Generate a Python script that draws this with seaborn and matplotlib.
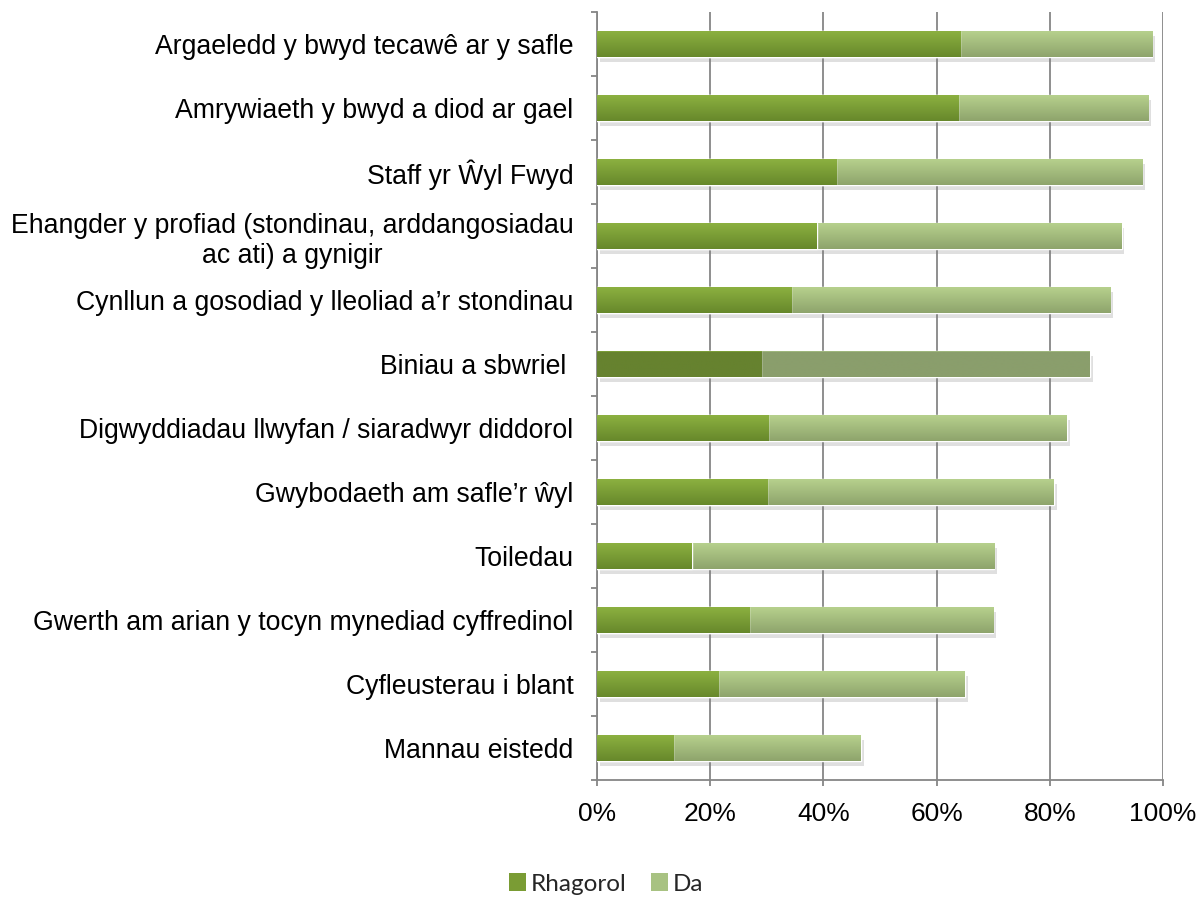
import numpy as np
import pandas as pd
import matplotlib
matplotlib.use("Agg")
import matplotlib.pyplot as plt
import matplotlib.patheffects as pe
from matplotlib.patches import Patch
from matplotlib.ticker import MultipleLocator, FixedLocator, PercentFormatter
import seaborn as sns

categories = [
    "Argaeledd y bwyd tecawê ar y safle",
    "Amrywiaeth y bwyd a diod ar gael",
    "Staff yr Ŵyl Fwyd",
    "Ehangder y profiad (stondinau, arddangosiadau\nac ati) a gynigir",
    "Cynllun a gosodiad y lleoliad a’r stondinau",
    "Biniau a sbwriel ",
    "Digwyddiadau llwyfan / siaradwyr diddorol",
    "Gwybodaeth am safle’r ŵyl",
    "Toiledau",
    "Gwerth am arian y tocyn mynediad cyffredinol",
    "Cyfleusterau i blant",
    "Mannau eistedd",
]
rhagorol = [64.2, 63.8, 42.3, 38.8, 34.3, 29.0, 30.3, 30.1, 16.7, 26.9, 21.4, 13.5]
da = [33.9, 33.6, 54.0, 53.9, 56.4, 58.1, 52.7, 50.6, 53.5, 43.1, 43.6, 33.1]
series_names = ["Rhagorol", "Da"]

df = pd.DataFrame({"cat": categories, "Rhagorol": rhagorol, "Da": da})
df["total"] = df["Rhagorol"] + df["Da"]

sns.set_style("white")
plt.rcParams["font.family"] = ["Liberation Sans", "DejaVu Sans"]

fig = plt.figure(figsize=(12.03, 8.97), dpi=100)
ax = fig.add_axes([597 / 1203, 1 - 780 / 897, 566 / 1203, 768 / 897])

dark_mid = "#7a9c34"
light_mid = "#a8c282"
bw = 0.41

sns.barplot(data=df, x="total", y="cat", color=light_mid, width=bw, ax=ax,
            saturation=1, orient="h", zorder=3)
n = len(categories)
light_patches = list(ax.patches[:n])
sns.barplot(data=df, x="Rhagorol", y="cat", color=dark_mid, width=bw, ax=ax,
            saturation=1, orient="h", zorder=4)
dark_patches = list(ax.patches[n:2 * n])

ax.set_xlim(0, 100)
ax.set_ylim(n - 0.5, -0.5)

def grad_img(top, bottom):
    t = np.array(matplotlib.colors.to_rgb(top))
    b = np.array(matplotlib.colors.to_rgb(bottom))
    s = np.linspace(0, 1, 64)[:, None]
    return (t * (1 - s) + b * s)[:, None, :]

for i, p in enumerate(light_patches):
    p.set_path_effects([pe.SimplePatchShadow(offset=(2, -3.5), shadow_rgbFace="#808080", alpha=0.25),
                        pe.Normal()])
    x0, y0 = p.get_x(), p.get_y()
    w, h = p.get_width(), p.get_height()
    if i == 5:
        img = grad_img("#a9c486", "#8a9e6c")
        img[4:, 0, :] = matplotlib.colors.to_rgb("#8a9e6c")
    else:
        img = grad_img("#b8d28e", "#8ea46c")
    im = ax.imshow(img, extent=(x0, x0 + w, y0 + h, y0), aspect="auto", zorder=3.5,
                   interpolation="bilinear")
    im.set_clip_path(p)
for i, p in enumerate(dark_patches):
    x0, y0 = p.get_x(), p.get_y()
    w, h = p.get_width(), p.get_height()
    if i == 5:
        img = grad_img("#85ac3c", "#64802e")
        img[4:, 0, :] = matplotlib.colors.to_rgb("#66822f")
    else:
        img = grad_img("#8db241", "#67882b")
    im = ax.imshow(img, extent=(x0, x0 + w, y0 + h, y0), aspect="auto", zorder=4.5,
                   interpolation="bilinear")
    im.set_clip_path(p)

ax.set_xlim(0, 100)
ax.set_ylim(n - 0.5, -0.5)

gcol = "#868686"
ax.xaxis.set_major_locator(MultipleLocator(20))
ax.xaxis.set_major_formatter(PercentFormatter(decimals=0))
ax.grid(axis="x", color=gcol, linewidth=1.3, zorder=1)
ax.grid(axis="y", visible=False)
ax.set_axisbelow(True)
for s in ["top", "right"]:
    ax.spines[s].set_visible(False)
for s in ["left", "bottom"]:
    ax.spines[s].set_color(gcol)
    ax.spines[s].set_linewidth(1.3)

ax.set_xlabel("")
ax.set_ylabel("")
ax.yaxis.set_minor_locator(FixedLocator(np.arange(-0.5, n, 1.0)))
ax.tick_params(axis="y", which="major", length=0, pad=17, labelsize=19.2, labelcolor="black")
ax.tick_params(axis="y", which="minor", length=4.5, width=1.3, color=gcol, direction="out", left=True)
ax.tick_params(axis="x", which="major", length=4.5, width=1.3, color=gcol, direction="out",
               bottom=True, pad=11, labelsize=19, labelcolor="black")
for lbl in ax.get_yticklabels():
    lbl.set_multialignment("center")

handles = [Patch(facecolor=dark_mid, edgecolor="none"), Patch(facecolor=light_mid, edgecolor="none")]
fig.legend(handles, series_names, loc="center", bbox_to_anchor=(606 / 1203, 1 - 884 / 897),
           ncol=2, frameon=False, prop={"family": ["Lato", "DejaVu Sans"], "size": 17.5},
           handlelength=0.7, handleheight=0.7, handletextpad=0.2, columnspacing=1.0)

fig.savefig("out.png", dpi=100)
